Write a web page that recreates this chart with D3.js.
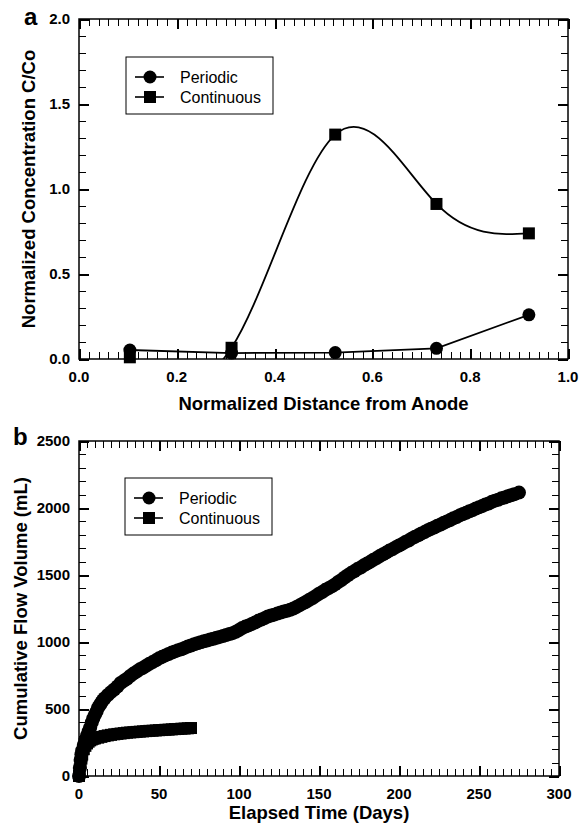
<!DOCTYPE html>
<html>
<head>
<meta charset="utf-8">
<script src="https://cdn.jsdelivr.net/npm/d3@7"></script>
<style>
  body { margin: 0; background: #fff; }
  text { font-family: "Liberation Sans", Arial, sans-serif; }
</style>
</head>
<body>
<svg id="chart" width="580" height="825"></svg>
<script>
// ---- panel a : concentration profile
const distA = [0.104, 0.312, 0.524, 0.731, 0.92];
const periodicA = [0.053, 0.035, 0.038, 0.063, 0.26];
const continuousA = [0.01, 0.066, 1.32, 0.912, 0.739];
const xTicksA = [0, 0.2, 0.4, 0.6, 0.8, 1.0];
const yTicksA = [0, 0.5, 1.0, 1.5, 2.0];

// ---- panel b : cumulative flow volume
const periodicDays = [0, 0.5, 1, 1.5, 2, 3, 4, 5, 6, 7, 8, 9, 10, 11, 12, 13, 14, 15, 16, 18,
  20, 22, 24, 26, 28, 30, 32, 34, 36, 38, 40, 42, 44, 46, 48, 50, 52, 54, 56, 58,
  60, 62, 64, 66, 68, 70, 72, 74, 76, 78, 80, 82, 84, 86, 88, 90, 92, 94, 96, 98,
  100, 102, 104, 106, 108, 110, 112, 114, 116, 118, 120, 122, 124, 126, 128, 130, 132, 134, 136, 138,
  140, 142, 144, 146, 148, 150, 152, 154, 156, 158, 160, 162, 164, 166, 168, 170, 172, 174, 176, 178,
  180, 182, 184, 186, 188, 190, 192, 194, 196, 198, 200, 202, 204, 206, 208, 210, 212, 214, 216, 218,
  220, 222, 224, 226, 228, 230, 232, 234, 236, 238, 240, 242, 244, 246, 248, 250, 252, 254, 256, 258,
  260, 262, 264, 266, 268, 270, 272, 275];
const periodicVol = [0, 60, 120, 160, 190, 232, 268, 300, 332, 362, 400, 432, 458, 482, 512, 530, 548, 566, 580, 604,
  626, 646, 668, 694, 710, 726, 746, 764, 779, 796, 808, 823, 838, 850, 863, 878, 889, 900, 911, 921,
  930, 939, 946, 956, 966, 974, 983, 991, 998, 1005, 1011, 1018, 1024, 1032, 1038, 1045, 1052, 1059, 1066, 1076,
  1090, 1104, 1115, 1124, 1135, 1146, 1158, 1167, 1178, 1190, 1197, 1204, 1212, 1220, 1228, 1233, 1240, 1250, 1262, 1275,
  1288, 1300, 1315, 1328, 1344, 1360, 1373, 1389, 1402, 1415, 1430, 1448, 1463, 1481, 1498, 1514, 1528, 1544, 1556, 1572,
  1585, 1598, 1614, 1626, 1642, 1655, 1667, 1682, 1693, 1708, 1720, 1732, 1747, 1758, 1773, 1785, 1796, 1810, 1820, 1834,
  1845, 1855, 1868, 1877, 1890, 1900, 1910, 1923, 1932, 1945, 1955, 1964, 1976, 1984, 1996, 2005, 2014, 2026, 2034, 2046,
  2055, 2062, 2072, 2078, 2088, 2095, 2102, 2115];
const continuousDays = [0, 0.5, 1, 1.5, 2, 3, 4, 5, 6, 7, 8, 9, 10, 12, 14, 16, 18, 20,
  22, 24, 26, 28, 30, 32, 34, 36, 38, 40, 42, 44, 46, 48, 50, 52, 54, 56, 58, 60, 62, 64, 66, 68, 70];
const continuousVol = [0, 50, 95, 130, 160, 200, 225, 243, 256, 266, 273, 278, 281, 286, 292, 298, 303, 307,
  311, 314, 317, 320, 323, 325, 327, 329, 331, 333, 335, 337, 338, 340, 342, 343, 345, 346, 348, 350, 351, 353, 354, 356, 358];
const xTicksB = [0, 50, 100, 150, 200, 250, 300];
const yTicksB = [0, 500, 1000, 1500, 2000, 2500];

const seriesNames = ["Periodic", "Continuous"];

const svg = d3.select("#chart");

function drawPanel(cfg) {
  const g = svg.append("g");
  const x = d3.scaleLinear().domain(cfg.xDomain).range([cfg.left, cfg.right]);
  const y = d3.scaleLinear().domain(cfg.yDomain).range([cfg.bottom, cfg.top]);

  const nX = Math.round((cfg.xDomain[1] - cfg.xDomain[0]) / cfg.xMinor);
  const nY = Math.round((cfg.yDomain[1] - cfg.yDomain[0]) / cfg.yMinor);
  const minorX = d3.range(nX + 1).map(i => cfg.xDomain[0] + i * cfg.xMinor);
  const minorY = d3.range(nY + 1).map(i => cfg.yDomain[0] + i * cfg.yMinor);

  // inward ticks on all four sides, one path per tick size
  const tickPath = (xs, ys, len) => {
    let p = "";
    xs.forEach(v => {
      const px = Math.round(x(v)) + 0.5;
      p += `M${px},${cfg.bottom}V${cfg.bottom - len}M${px},${cfg.top}V${cfg.top + len}`;
    });
    ys.forEach(v => {
      const py = Math.round(y(v)) + 0.5;
      p += `M${cfg.left},${py}H${cfg.left + len}M${cfg.right},${py}H${cfg.right - len}`;
    });
    return p;
  };
  g.append("path").attr("d", tickPath(minorX, minorY, 7))
    .attr("fill", "none").attr("stroke", "#000").attr("stroke-width", 1.5)
    .attr("shape-rendering", "crispEdges");
  g.append("path").attr("d", tickPath(cfg.xTicks, cfg.yTicks, 10))
    .attr("fill", "none").attr("stroke", "#000").attr("stroke-width", 2)
    .attr("shape-rendering", "crispEdges");

  g.append("rect")
    .attr("x", cfg.left).attr("y", cfg.top)
    .attr("width", cfg.right - cfg.left).attr("height", cfg.bottom - cfg.top)
    .attr("fill", "none").attr("stroke", "#000").attr("stroke-width", 1.5);

  // tick labels
  g.selectAll(".xl").data(cfg.xTicks).enter().append("text")
    .attr("x", d => x(d)).attr("y", cfg.bottom + 23)
    .attr("text-anchor", "middle").attr("font-size", 15).attr("font-weight", "bold")
    .text(cfg.xFormat);
  g.selectAll(".yl").data(cfg.yTicks).enter().append("text")
    .attr("x", cfg.left - 9).attr("y", d => y(d) + 5.3)
    .attr("text-anchor", "end").attr("font-size", 15).attr("font-weight", "bold")
    .text(cfg.yFormat);

  // axis titles
  g.append("text")
    .attr("x", (cfg.left + cfg.right) / 2).attr("y", cfg.xTitleY)
    .attr("text-anchor", "middle").attr("font-size", 18.5).attr("font-weight", "bold")
    .text(cfg.xTitle);
  g.append("text")
    .attr("transform", `translate(${cfg.yTitleX},${(cfg.top + cfg.bottom) / 2}) rotate(-90)`)
    .attr("text-anchor", "middle").attr("font-size", 18.5).attr("font-weight", "bold")
    .text(cfg.yTitle);

  // panel letter
  g.append("text")
    .attr("x", cfg.letterX).attr("y", cfg.letterY)
    .attr("font-family", '"Liberation Serif", "Times New Roman", serif')
    .attr("font-size", 24).attr("font-weight", "bold")
    .text(cfg.letter);

  // legend
  const lg = g.append("g").attr("transform", `translate(${cfg.legendX},${cfg.legendY})`);
  lg.append("rect").attr("width", 147).attr("height", 57)
    .attr("fill", "#fff").attr("stroke", "#000").attr("stroke-width", 1);
  seriesNames.forEach((name, i) => {
    const cy = 20 + i * 20;
    lg.append("line").attr("x1", 9).attr("x2", 38).attr("y1", cy).attr("y2", cy)
      .attr("stroke", "#000").attr("stroke-width", 1.6);
    if (i === 0) {
      lg.append("circle").attr("cx", 24).attr("cy", cy).attr("r", 6.5).attr("fill", "#000");
    } else {
      lg.append("rect").attr("x", 18).attr("y", cy - 6).attr("width", 12).attr("height", 12).attr("fill", "#000");
    }
    lg.append("text").attr("x", 54).attr("y", cy + 5.8)
      .attr("font-size", 16).text(name);
  });

  return { g, x, y };
}

// ---------- panel a
const pa = drawPanel({
  left: 79, right: 568, top: 19, bottom: 359,
  xDomain: [0, 1], yDomain: [0, 2], xMinor: 0.02, yMinor: 0.1,
  xTicks: xTicksA, yTicks: yTicksA,
  xFormat: d3.format(".1f"), yFormat: d3.format(".1f"),
  xTitle: "Normalized Distance from Anode", xTitleY: 410,
  yTitle: "Normalized Concentration C/Co", yTitleX: 35,
  letter: "a", letterX: 24, letterY: 25,
  legendX: 126, legendY: 57
});

svg.append("clipPath").attr("id", "clipA").append("rect")
  .attr("x", 79).attr("y", 19).attr("width", 489).attr("height", 340);

const ptsPA = distA.map((d, i) => [d, periodicA[i]]);
const ptsCA = distA.map((d, i) => [d, continuousA[i]]);

pa.g.append("path")
  .attr("d", d3.line().x(d => pa.x(d[0])).y(d => pa.y(d[1]))(ptsPA))
  .attr("fill", "none").attr("stroke", "#000").attr("stroke-width", 1.8);
pa.g.append("path")
  .attr("clip-path", "url(#clipA)")
  .attr("d", d3.line().curve(d3.curveNatural).x(d => pa.x(d[0])).y(d => pa.y(d[1]))(ptsCA))
  .attr("fill", "none").attr("stroke", "#000").attr("stroke-width", 1.8);

pa.g.selectAll(".sqA").data(ptsCA).enter().append("rect")
  .attr("x", d => pa.x(d[0]) - 6).attr("y", d => pa.y(d[1]) - 6)
  .attr("width", 12).attr("height", 12).attr("fill", "#000");
pa.g.selectAll(".ciA").data(ptsPA).enter().append("circle")
  .attr("cx", d => pa.x(d[0])).attr("cy", d => pa.y(d[1]))
  .attr("r", 6.5).attr("fill", "#000");

// ---------- panel b
const pb = drawPanel({
  left: 79, right: 559, top: 441, bottom: 776,
  xDomain: [0, 300], yDomain: [0, 2500], xMinor: 5, yMinor: 100,
  xTicks: xTicksB, yTicks: yTicksB,
  xFormat: d3.format("d"), yFormat: d3.format("d"),
  xTitle: "Elapsed Time (Days)", xTitleY: 819,
  yTitle: "Cumulative Flow Volume (mL)", yTitleX: 27,
  letter: "b", letterX: 13, letterY: 445,
  legendX: 125, legendY: 478
});

const ptsCB = continuousDays.map((d, i) => [d, continuousVol[i]]);
const ptsPB = periodicDays.map((d, i) => [d, periodicVol[i]]);

[ptsCB, ptsPB].forEach(pts => {
  pb.g.append("path")
    .attr("d", d3.line().x(d => pb.x(d[0])).y(d => pb.y(d[1]))(pts))
    .attr("fill", "none").attr("stroke", "#000").attr("stroke-width", 1.5);
});
pb.g.selectAll(".sqB").data(ptsCB).enter().append("rect")
  .attr("x", d => pb.x(d[0]) - 6).attr("y", d => pb.y(d[1]) - 6)
  .attr("width", 12).attr("height", 12).attr("fill", "#000");
pb.g.selectAll(".ciB").data(ptsPB).enter().append("circle")
  .attr("cx", d => pb.x(d[0])).attr("cy", d => pb.y(d[1]))
  .attr("r", 7).attr("fill", "#000");
</script>
</body>
</html>
